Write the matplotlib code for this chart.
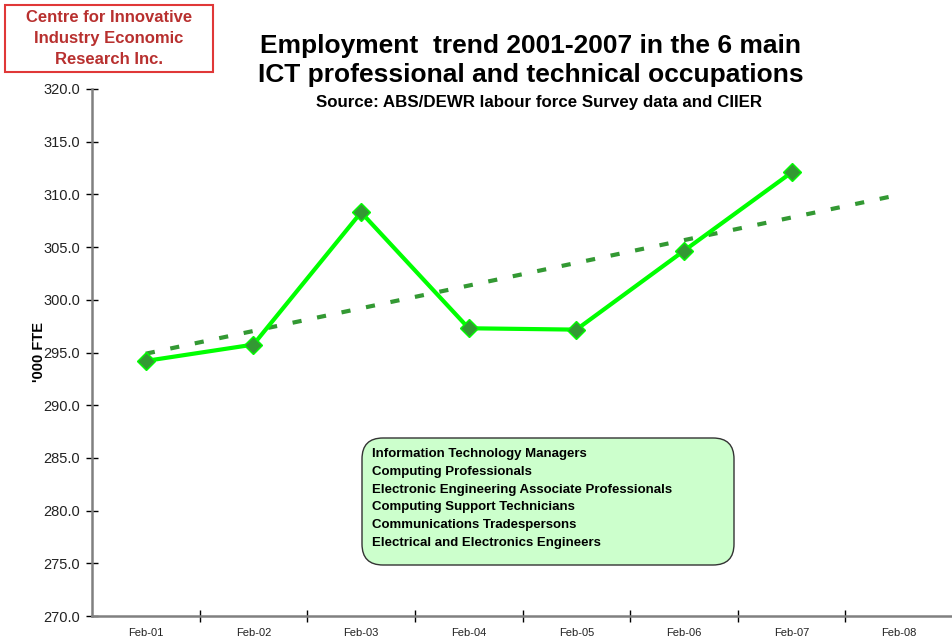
import matplotlib
matplotlib.use("Agg")
import matplotlib.pyplot as plt
import numpy as np
from matplotlib.patches import FancyBboxPatch, Rectangle

plt.rcParams['font.family'] = ['Liberation Sans', 'DejaVu Sans']

# ---- data ----
categories = ["Feb-01", "Feb-02", "Feb-03", "Feb-04", "Feb-05", "Feb-06", "Feb-07", "Feb-08"]
employment = [294.2, 295.75, 308.3, 297.3, 297.17, 304.65, 312.08]
y_ticks = [270.0, 275.0, 280.0, 285.0, 290.0, 295.0, 300.0, 305.0, 310.0, 315.0, 320.0]
occupations = [
    "Information Technology Managers",
    "Computing Professionals",
    "Electronic Engineering Associate Professionals",
    "Computing Support Technicians",
    "Communications Tradespersons",
    "Electrical and Electronics Engineers",
]
title_lines = ["Employment  trend 2001-2007 in the 6 main",
               "ICT professional and technical occupations"]
subtitle = "Source: ABS/DEWR labour force Survey data and CIIER"
logo_lines = ["Centre for Innovative", "Industry Economic", "Research Inc."]
y_label = "'000 FTE"

W, H = 952, 641
fig = plt.figure(figsize=(W / 100, H / 100), dpi=100)
fig.patch.set_facecolor("white")

# axes placement (pixels -> fraction)
left_px, right_px, top_px, bottom_px = 92, 953, 89, 616
ax = fig.add_axes([left_px / W, 1 - bottom_px / H,
                   (right_px - left_px) / W, (bottom_px - top_px) / H])

x_data = np.arange(1, len(employment) + 1)
x_all = np.arange(1, len(categories) + 1)

# linear trend (Excel-style trendline, forecast to last category)
coef = np.polyfit(x_data, employment, 1)
trend_x = np.array([x_all[0], x_all[-1]])
trend_y = np.polyval(coef, trend_x)
ax.plot(trend_x, trend_y, color="#339933", lw=3, dashes=(2.2, 3.8),
        solid_capstyle="butt", dash_capstyle="butt", zorder=2)

ax.plot(x_data, employment, color="#00FF00", lw=3, marker="D", ms=9,
        markerfacecolor="#339933", markeredgecolor="#00FF00", markeredgewidth=1,
        zorder=3)

ax.set_xlim(0.5, len(categories) + 0.5)
ax.set_ylim(y_ticks[0], y_ticks[-1])

# y axis
ax.set_yticks(y_ticks)
ax.set_yticklabels([f"{v:.1f}" for v in y_ticks], fontsize=10.5, color="#222222")
ax.tick_params(axis="y", direction="inout", length=9, width=1, color="black", pad=4)

# x axis: tick marks between categories, labels at centres
ax.set_xticks(np.arange(1.5, len(categories) + 0.6, 1.0))
ax.set_xticklabels([])
ax.tick_params(axis="x", which="major", direction="inout", length=8, width=1, color="black")
ax.set_xticks(x_all, minor=True)
ax.set_xticklabels(categories, minor=True, fontsize=8, color="#222222")
ax.tick_params(axis="x", which="minor", length=0, pad=9)

for s in ["top", "right"]:
    ax.spines[s].set_visible(False)
for s in ["left", "bottom"]:
    ax.spines[s].set_color("#808080")
    ax.spines[s].set_linewidth(1.8)
ax.set_facecolor("white")

# y label
fig.text(39 / W, 1 - 352 / H, y_label, rotation=90, fontsize=10.5, fontweight="bold",
         ha="center", va="center")

# titles
fig.text(530 / W, 1 - 46 / H, title_lines[0], fontsize=19, fontweight="bold",
         ha="center", va="center")
fig.text(531 / W, 1 - 75 / H, title_lines[1], fontsize=19, fontweight="bold",
         ha="center", va="center")
fig.text(539 / W, 1 - 102 / H, subtitle, fontsize=12.2, fontweight="bold",
         ha="center", va="center")

# logo box
fig.patches.append(Rectangle((5 / W, 1 - 72 / H), 208 / W, 67 / H,
                             transform=fig.transFigure, facecolor="white",
                             edgecolor="#E03838", lw=1.5))
for txt, yy in zip(logo_lines, [18, 39, 59]):
    fig.text(109 / W, 1 - yy / H, txt, fontsize=12, fontweight="bold",
             color="#B8302F", ha="center", va="center")

# occupations box
bx0, by0, bx1, by1 = 362, 438, 734, 565
box = FancyBboxPatch((bx0 / W, 1 - by1 / H), (bx1 - bx0) / W, (by1 - by0) / H,
                     boxstyle="round,pad=0,rounding_size=0.022",
                     transform=fig.transFigure, facecolor="#CCFFCC",
                     edgecolor="#333333", lw=1, mutation_aspect=W / H)
fig.patches.append(box)
line_y = [454, 472, 490, 507, 525, 543]
for txt, yy in zip(occupations, line_y):
    fig.text(372 / W, 1 - yy / H, txt, fontsize=9.5, fontweight="bold",
             ha="left", va="center")

fig.savefig("out.png", dpi=100)
